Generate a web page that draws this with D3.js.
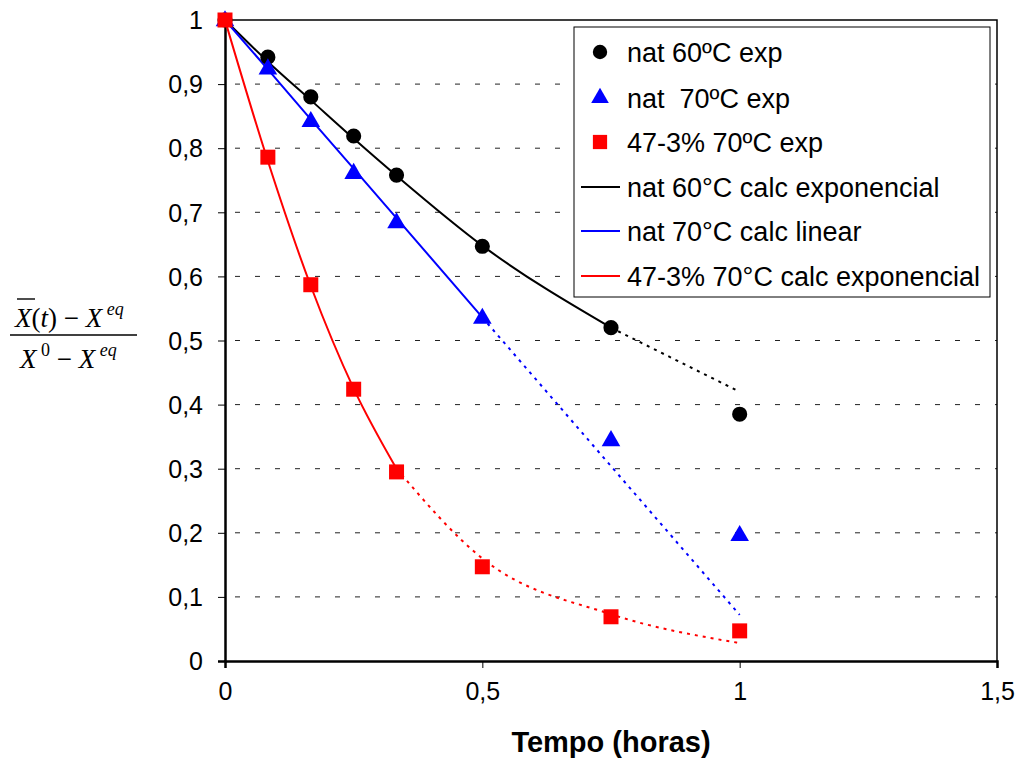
<!DOCTYPE html>
<html>
<head>
<meta charset="utf-8">
<title>Tempo (horas)</title>
<script src="https://cdn.jsdelivr.net/npm/d3@7"></script>
<style>
  body { margin: 0; background: #fff; }
  svg { display: block; font-family: Arial, "Liberation Sans", sans-serif; }
</style>
</head>
<body>
<svg id="chart" width="1017" height="761"></svg>
<script>
// tempo em horas (5, 10, 15, 20, 30, 45, 60 min)
const tempo = [0, 0.0833, 0.1667, 0.25, 0.3333, 0.5, 0.75, 1];

// pontos experimentais
const nat60Exp = [1, 0.942, 0.880, 0.819, 0.758, 0.647, 0.520, 0.385];
const nat70Exp = [1, 0.925, 0.843, 0.762, 0.685, 0.536, 0.345, 0.197];
const mix70Exp = [1, 0.786, 0.587, 0.424, 0.295, 0.147, 0.069, 0.047];

// curvas calculadas
const nat60Calc = [1, 0.935, 0.875, 0.815, 0.757, 0.648, 0.520, 0.420];
const nat70Calc = [1, 0.923, 0.845, 0.768, 0.691, 0.536, 0.304, 0.072];
const mix70Calc = [1, 0.780, 0.585, 0.425, 0.300, 0.160, 0.073, 0.028];

// ate onde a curva e continua (depois pontilhada)
const solidUntil = [0.75, 0.5, 0.3333];

const xTicks = [0, 0.5, 1, 1.5];
const yTicks = [0, 0.1, 0.2, 0.3, 0.4, 0.5, 0.6, 0.7, 0.8, 0.9, 1];

const legendLabels = ["nat 60ºC exp", "nat  70ºC exp", "47-3% 70ºC exp",
  "nat 60°C calc exponencial", "nat 70°C calc linear", "47-3% 70°C calc exponencial"];

const colors = ["#000000", "#0000ff", "#ff0000"];

const svg = d3.select("#chart");
const x = d3.scaleLinear().domain([0, 1.5]).range([225, 997]);
const y = d3.scaleLinear().domain([0, 1]).range([661, 20]);
const fmt = d => String(d).replace(".", ",");

// grid
svg.append("g").selectAll("line")
  .data(yTicks.filter(d => d > 0 && d < 1))
  .enter().append("line")
  .attr("x1", x(0) + 10).attr("x2", x(1.5))
  .attr("y1", d => y(d)).attr("y2", d => y(d))
  .attr("stroke", "#222").attr("stroke-width", 1)
  .attr("stroke-dasharray", "5,15");

// frame (top and right)
svg.append("path")
  .attr("d", `M${x(0)},${y(1)}H${x(1.5)}V${y(0)}`)
  .attr("fill", "none").attr("stroke", "#000").attr("stroke-width", 1.5);

// axes
const xAxis = svg.append("g").attr("transform", `translate(0,${y(0)})`)
  .call(d3.axisBottom(x).tickValues(xTicks).tickFormat(fmt).tickSize(7).tickPadding(14));
const yAxis = svg.append("g").attr("transform", `translate(${x(0)},0)`)
  .call(d3.axisLeft(y).tickValues(yTicks).tickFormat(fmt).tickSize(7).tickPadding(15));
[xAxis, yAxis].forEach(a => {
  a.select(".domain").attr("stroke", "#000").attr("stroke-width", 2.5);
  a.selectAll(".tick line").attr("stroke", "#000").attr("stroke-width", 1);
  a.selectAll(".tick text").attr("fill", "#000").style("font-size", "25px")
    .style("font-family", "Arial, 'Liberation Sans', sans-serif");
});
yAxis.selectAll(".tick text").attr("dy", "0.35em");

// calc curves
const curves = [d3.curveMonotoneX, d3.curveLinear, d3.curveMonotoneX];
[nat60Calc, nat70Calc, mix70Calc].forEach((vals, i) => {
  const line = d3.line().x(d => x(d[0])).y(d => y(d[1])).curve(curves[i]);
  const pts = tempo.map((t, j) => [t, vals[j]]);
  const solid = pts.filter(p => p[0] <= solidUntil[i] + 1e-6);
  const dotted = pts.filter(p => p[0] >= solidUntil[i] - 1e-6);
  svg.append("path").attr("d", line(solid)).attr("fill", "none")
    .attr("stroke", colors[i]).attr("stroke-width", 2);
  svg.append("path").attr("d", line(dotted)).attr("fill", "none")
    .attr("stroke", colors[i]).attr("stroke-width", 2)
    .attr("stroke-dasharray", "3,5");
});

// markers
const sym = [d3.symbolCircle, d3.symbolTriangle, d3.symbolSquare];
const sizes = [180, 150, 225];
[nat60Exp, nat70Exp, mix70Exp].forEach((vals, i) => {
  svg.append("g").selectAll("path")
    .data(tempo.map((t, j) => [t, vals[j]]))
    .enter().append("path")
    .attr("d", d3.symbol().type(sym[i]).size(sizes[i]))
    .attr("transform", d => `translate(${x(d[0])},${y(d[1]) + (i === 1 ? 1 : 0)})`)
    .attr("fill", colors[i]);
});

// legend
const lg = svg.append("g");
lg.append("rect").attr("x", 574).attr("y", 27).attr("width", 416).attr("height", 270)
  .attr("fill", "#fff").attr("stroke", "#000").attr("stroke-width", 1);
const rowY = [52, 98, 142, 187, 231, 276];
legendLabels.forEach((lab, i) => {
  if (i < 3) {
    lg.append("path").attr("d", d3.symbol().type(sym[i]).size(sizes[i] * 0.9))
      .attr("transform", `translate(600,${rowY[i]})`).attr("fill", colors[i]);
  } else {
    lg.append("line").attr("x1", 581).attr("x2", 620)
      .attr("y1", rowY[i]).attr("y2", rowY[i])
      .attr("stroke", colors[i - 3]).attr("stroke-width", 2);
  }
  lg.append("text").attr("x", 627).attr("y", rowY[i]).attr("dy", "0.36em")
    .style("font-size", "27px").style("white-space", "pre").attr("fill", "#000")
    .text(lab);
});

// x label
svg.append("text").attr("x", 611).attr("y", 752).attr("text-anchor", "middle")
  .style("font-size", "29px").style("font-weight", "bold").text("Tempo (horas)");

// y label (fracao)
const yl = svg.append("g").style("font-family", "'Liberation Serif', 'Times New Roman', serif")
  .style("font-size", "27px").attr("fill", "#000");
const num = yl.append("text").attr("x", 15).attr("y", 327);
num.append("tspan").style("font-style", "italic").text("X");
num.append("tspan").text("(");
num.append("tspan").style("font-style", "italic").text("t");
num.append("tspan").text(") \u2212 ");
num.append("tspan").style("font-style", "italic").text("X");
num.append("tspan").style("font-style", "italic").style("font-size", "18px").attr("dy", -12).text(" eq");
yl.append("line").attr("x1", 17).attr("x2", 35).attr("y1", 299).attr("y2", 299)
  .attr("stroke", "#000").attr("stroke-width", 1.4);
yl.append("line").attr("x1", 10).attr("x2", 137).attr("y1", 335).attr("y2", 335)
  .attr("stroke", "#000").attr("stroke-width", 1.4);
const den = yl.append("text").attr("x", 20).attr("y", 368);
den.append("tspan").style("font-style", "italic").text("X");
den.append("tspan").style("font-size", "18px").attr("dy", -12).text(" 0");
den.append("tspan").attr("dy", 12).text(" \u2212 ");
den.append("tspan").style("font-style", "italic").text("X");
den.append("tspan").style("font-style", "italic").style("font-size", "18px").attr("dy", -12).text(" eq");
</script>
</body>
</html>
